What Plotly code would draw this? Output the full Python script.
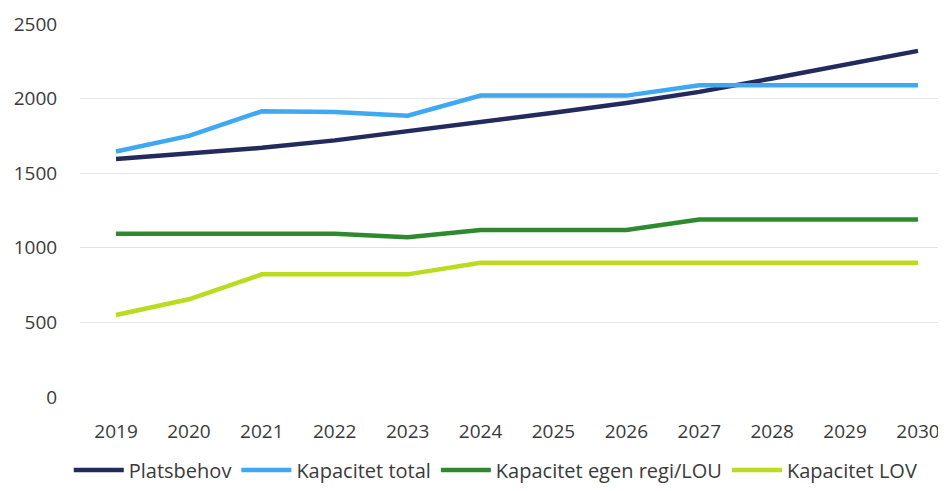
import plotly.graph_objects as go

years = [2019, 2020, 2021, 2022, 2023, 2024, 2025, 2026, 2027, 2028, 2029, 2030]
year_labels = [str(y) for y in years]
platsbehov = [1595, 1630, 1670, 1720, 1780, 1840, 1905, 1970, 2045, 2135, 2228, 2320]
kap_total = [1645, 1750, 1915, 1910, 1885, 2020, 2020, 2020, 2090, 2090, 2090, 2090]
kap_egen = [1095, 1095, 1095, 1095, 1070, 1120, 1120, 1120, 1190, 1190, 1190, 1190]
kap_lov = [550, 655, 822, 822, 822, 900, 900, 900, 900, 900, 900, 900]
y_ticks = [0, 500, 1000, 1500, 2000, 2500]

series = [
    ("Platsbehov", platsbehov, "#222a5e"),
    ("Kapacitet total", kap_total, "#3ea8f0"),
    ("Kapacitet egen regi/LOU", kap_egen, "#2f8a2f"),
    ("Kapacitet LOV", kap_lov, "#b9dc1e"),
]

fig = go.Figure()
for name, vals, col in series:
    fig.add_trace(go.Scatter(x=years, y=vals, name=name, mode="lines",
                             line=dict(color=col, width=4.5)))

font = dict(family="Open Sans, sans-serif", size=19, color="#3a3a3a")
legend_font = dict(family="Open Sans, sans-serif", size=20, color="#3a3a3a")
fig.update_layout(
    width=938, height=483,
    margin=dict(l=72, r=0, t=16, b=94, autoexpand=False),
    paper_bgcolor="white", plot_bgcolor="white",
    font=font,
    showlegend=True,
    legend=dict(orientation="h", xref="container", yref="container",
                x=0.52, xanchor="center", y=0.0435, yanchor="middle",
                font=legend_font, itemwidth=50, tracegroupgap=0,
                traceorder="normal"),
    xaxis=dict(range=[2018.506, 2030.384], tickvals=years, ticktext=year_labels,
               showgrid=False, zeroline=False, showline=False, automargin=False,
               ticks="outside", ticklen=17, tickcolor="rgba(0,0,0,0)",
               tickfont=font),
    yaxis=dict(range=[0, 2500], tickvals=y_ticks, showgrid=True,
               gridcolor="#e4e4e4", gridwidth=1, zeroline=False, automargin=False,
               showline=False, ticks="outside", ticklen=18,
               tickcolor="rgba(0,0,0,0)", tickfont=font),
)
fig.write_html("out.html")
